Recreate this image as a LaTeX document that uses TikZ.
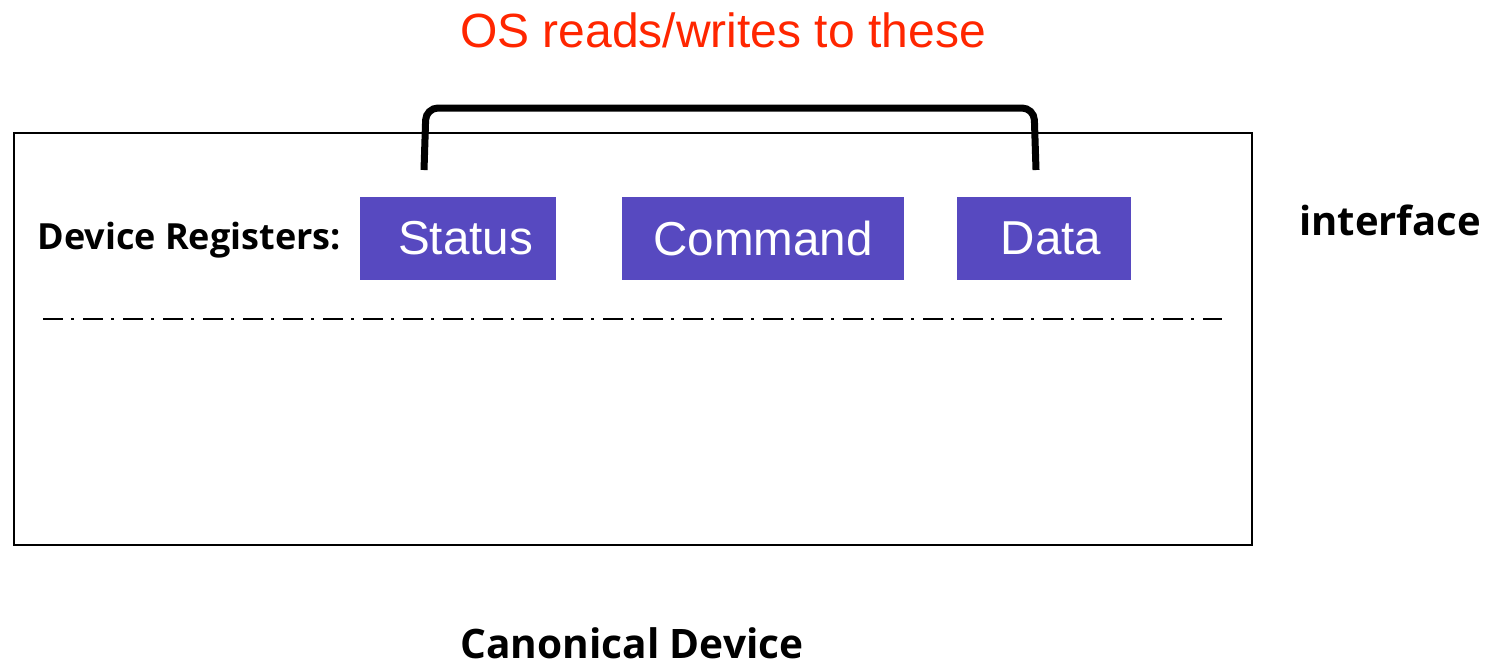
\documentclass[tikz,border=0pt]{standalone}
\usepackage{fontspec}
\setmainfont{Liberation Sans}
\newfontfamily\boldsans{Open Sans}

\definecolor{regviolet}{RGB}{87,73,192}
\definecolor{osred}{RGB}{255,38,0}

\begin{document}
\begin{tikzpicture}[x=0.5pt,y=0.5pt,yscale=-1,xscale=1,
  regbox/.style={fill=regviolet,text=white,inner sep=0pt,minimum height=41.5pt,font=\fontsize{23.8}{28}\selectfont},
  boldlabel/.style={inner sep=0pt,font=\boldsans\bfseries}]
\useasboundingbox (0,0) rectangle (1486,666);

%Shape: Rectangle [id:device]
\draw [line width=0.8pt]  (14,133) rectangle (1252,545) ;

%Shape: Bracket [id:bracket]
\draw [line width=3.5pt, rounded corners=6pt]  (424,170) -- (426,108) -- (1034,108) -- (1036,170) ;

%Straight Lines [id:divider]
\draw [line width=1.1pt, dash pattern=on 10pt off 4pt on 1.5pt off 4.5pt]  (43,319) -- (1222,319) ;

% Register boxes
\node [regbox, minimum width=98pt]  (status)  at (458,238.5)  {\hspace*{7.5pt}Status};
\node [regbox, minimum width=141pt] (command) at (763,238.5)  {Command};
\node [regbox, minimum width=87pt]  (data)    at (1044,238.5) {\hspace*{7pt}Data};

% Text Node
\node [boldlabel, anchor=west, font=\boldsans\bfseries\fontsize{18}{22}\selectfont] (regs) at (37,240) {Device Registers:};
% Text Node
\node [boldlabel, font=\boldsans\bfseries\fontsize{20}{24}\selectfont] (iface) at (1390,220) {interface};
% Text Node
\node [boldlabel, font=\boldsans\bfseries\fontsize{20.3}{24}\selectfont] (canon) at (632,643) {Canonical Device};
% Text Node
\node [inner sep=0pt, text=osred, font=\fontsize{24}{29}\selectfont] (os) at (723,30) {OS reads/writes to these};

\end{tikzpicture}
\end{document}
